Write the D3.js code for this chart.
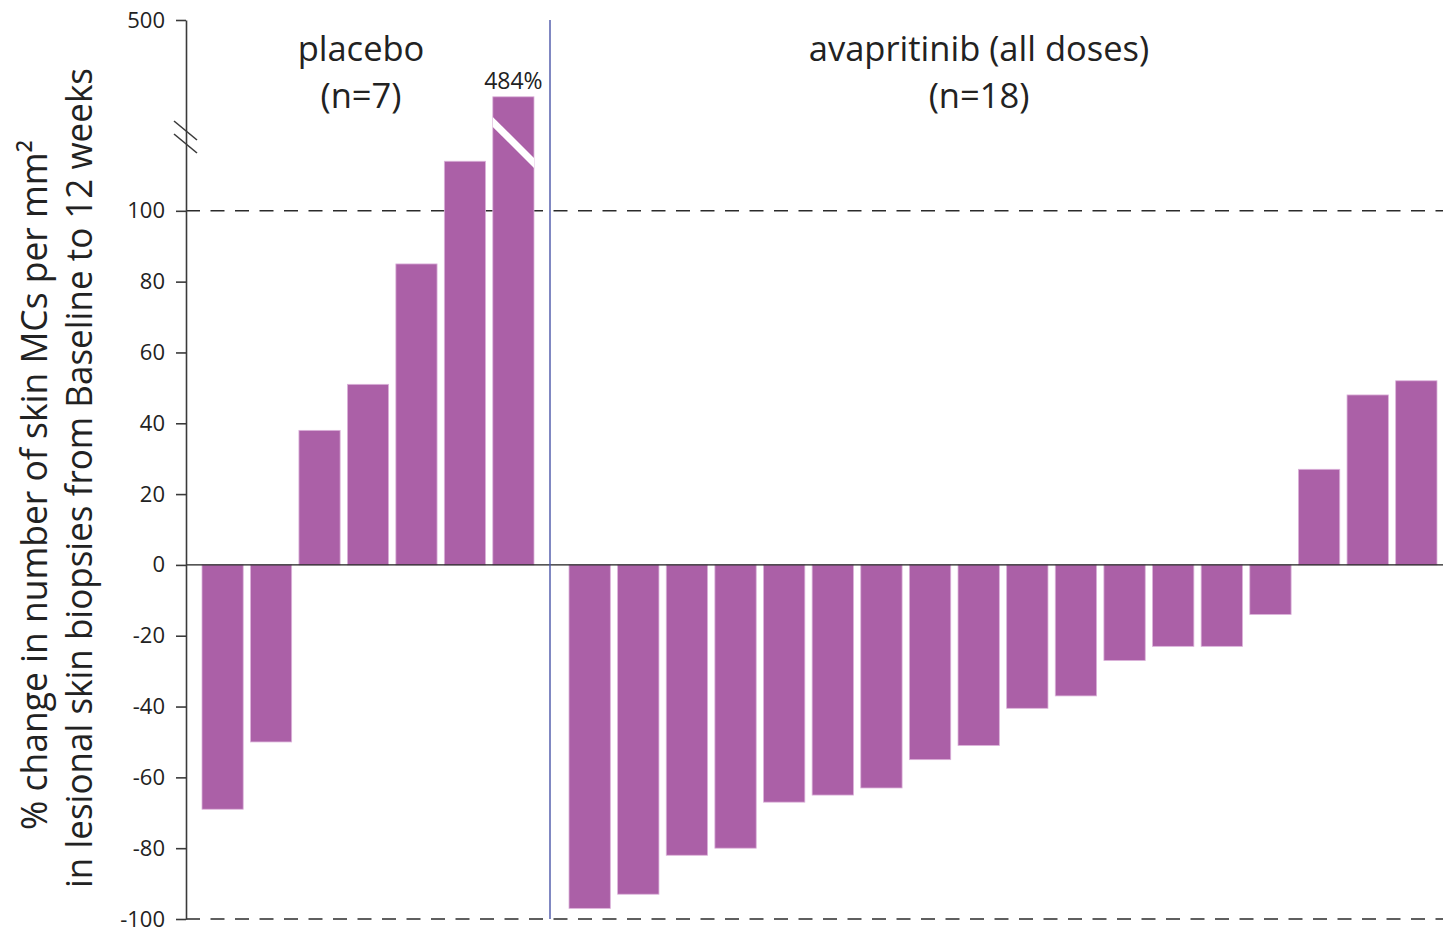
<!DOCTYPE html>
<html>
<head>
<meta charset="utf-8">
<script src="https://cdn.jsdelivr.net/npm/d3@7"></script>
<style>
  html, body { margin: 0; padding: 0; background: #ffffff; }
  svg { display: block; }
  text { font-family: "Open Sans", "Noto Sans", sans-serif; fill: #222; }
</style>
</head>
<body>
<svg id="chart" width="1443" height="932"></svg>
<script>
// Patients in each arm
const placeboIds = ["P1", "P2", "P3", "P4", "P5", "P6", "P7"];
const avapritinibIds = ["A1", "A2", "A3", "A4", "A5", "A6", "A7", "A8", "A9",
  "A10", "A11", "A12", "A13", "A14", "A15", "A16", "A17", "A18"];

// % change in skin mast cells per mm² from baseline to week 12
const placeboChange = [-69, -50, 38, 51, 85, 114, 484];
const avapritinibChange = [-97, -93, -82, -80, -67, -65, -63, -55, -51,
  -40.5, -37, -27, -23, -23, -14, 27, 48, 52];

// Axis ticks and broken-axis bounds
const yTickValues = [-100, -80, -60, -40, -20, 0, 20, 40, 60, 80, 100, 500];
const axisBreak = [120, 475];

// Group headings and the labelled outlier
const placeboTitle = ["placebo", "(n=7)"];
const avapritinibTitle = ["avapritinib (all doses)", "(n=18)"];
const outlierLabel = "484%";

const yTitleLines = [
  "% change in number of skin MCs per mm\u00B2",
  "in lesional skin biopsies from Baseline to 12 weeks"
];

const W = 1443, H = 932;
const axisX = 186;
const barColor = "#ab60a7";

const svg = d3.select("#chart");

// Broken linear scale: everything between the break bounds collapses to one point
const y = d3.scaleLinear()
  .domain([-100, axisBreak[0], axisBreak[1], 500])
  .range([919, 140, 140, 20]);

const xPlacebo = d3.scaleBand().domain(placeboIds)
  .range([202, 534]).paddingInner(0.15).paddingOuter(0);
const xAvap = d3.scaleBand().domain(avapritinibIds)
  .range([569, 1437]).paddingInner(0.15).paddingOuter(0);

// Reference lines at +100 and -100
[100, -100].forEach(v => {
  svg.append("line")
    .attr("x1", axisX).attr("x2", W)
    .attr("y1", y(v)).attr("y2", y(v))
    .attr("stroke", "#2b2b2b").attr("stroke-width", 1.6)
    .attr("stroke-dasharray", "14,10.5");
});

// Bars
function drawBars(ids, values, x) {
  svg.append("g").selectAll("rect")
    .data(values.map((v, i) => ({ id: ids[i], v })))
    .join("rect")
    .attr("x", d => x(d.id))
    .attr("width", x.bandwidth())
    .attr("y", d => Math.min(y(d.v), y(0)))
    .attr("height", d => Math.abs(y(d.v) - y(0)))
    .attr("fill", barColor)
    .attr("stroke", "#dcb3da")
    .attr("stroke-width", 0.8);
}
drawBars(placeboIds, placeboChange, xPlacebo);
drawBars(avapritinibIds, avapritinibChange, xAvap);

// White slash across the bar that runs past the axis break
{
  const id = placeboIds[placeboChange.indexOf(d3.max(placeboChange))];
  const x0 = xPlacebo(id), x1 = x0 + xPlacebo.bandwidth();
  const yc = y(axisBreak[0]) + 2.5;
  const half = (x1 - x0) / 2, t = 5;
  svg.append("polygon")
    .attr("points", [
      [x0, yc - half - t], [x1, yc + half - t],
      [x1, yc + half + t], [x0, yc - half + t]
    ].map(p => p.join(",")).join(" "))
    .attr("fill", "#ffffff");

  svg.append("text")
    .attr("x", (x0 + x1) / 2)
    .attr("y", 89)
    .attr("text-anchor", "middle")
    .attr("font-size", 23)
    .text(outlierLabel);
}

// Zero line
svg.append("line")
  .attr("x1", axisX).attr("x2", W)
  .attr("y1", y(0)).attr("y2", y(0))
  .attr("stroke", "#1e1e1e").attr("stroke-width", 1.4);

// Separator between the two arms
const sepX = (xPlacebo.range()[1] + xAvap.range()[0]) / 2 - 1.5;
svg.append("line")
  .attr("x1", sepX).attr("x2", sepX)
  .attr("y1", y(500)).attr("y2", y(-100))
  .attr("stroke", "#4a55a8").attr("stroke-width", 1.4);

// Y axis (plain hyphen for negative labels)
const yAxis = d3.axisLeft(y)
  .tickValues(yTickValues)
  .tickFormat(d => String(d))
  .tickSize(10)
  .tickSizeOuter(0)
  .tickPadding(11);

const gy = svg.append("g")
  .attr("transform", `translate(${axisX},0)`)
  .call(yAxis);
gy.select(".domain").attr("stroke", "#3a3a3a").attr("stroke-width", 1.6);
gy.selectAll(".tick line").attr("stroke", "#3a3a3a").attr("stroke-width", 1.6);
gy.selectAll(".tick text")
  .attr("font-size", 22)
  .attr("font-family", "'Open Sans', 'Noto Sans', sans-serif")
  .attr("fill", "#222");

// Break marks on the axis
const yb = y(axisBreak[0]);
[-9, 4].forEach(off => {
  svg.append("line")
    .attr("x1", axisX - 12).attr("y1", yb + off - 10)
    .attr("x2", axisX + 11).attr("y2", yb + off + 9)
    .attr("stroke", "#3a3a3a").attr("stroke-width", 1.6);
});

// Group headings
function heading(lines, cx, size) {
  lines.forEach((t, i) => {
    svg.append("text")
      .attr("x", cx)
      .attr("y", 61 + i * 47)
      .attr("text-anchor", "middle")
      .attr("font-size", size)
      .text(t);
  });
}
heading(placeboTitle, 361, 34.5);
heading(avapritinibTitle, 979, 34.5);

// Y-axis title
const yTitleLen = [690, 820];
const yTitleX = [47, 92];
yTitleLines.forEach((t, i) => {
  svg.append("text")
    .attr("transform", `translate(${yTitleX[i]},${i === 0 ? 485 : 478}) rotate(-90)`)
    .attr("text-anchor", "middle")
    .attr("font-size", 37)
    .attr("textLength", yTitleLen[i])
    .attr("lengthAdjust", "spacingAndGlyphs")
    .text(t);
});
</script>
</body>
</html>
